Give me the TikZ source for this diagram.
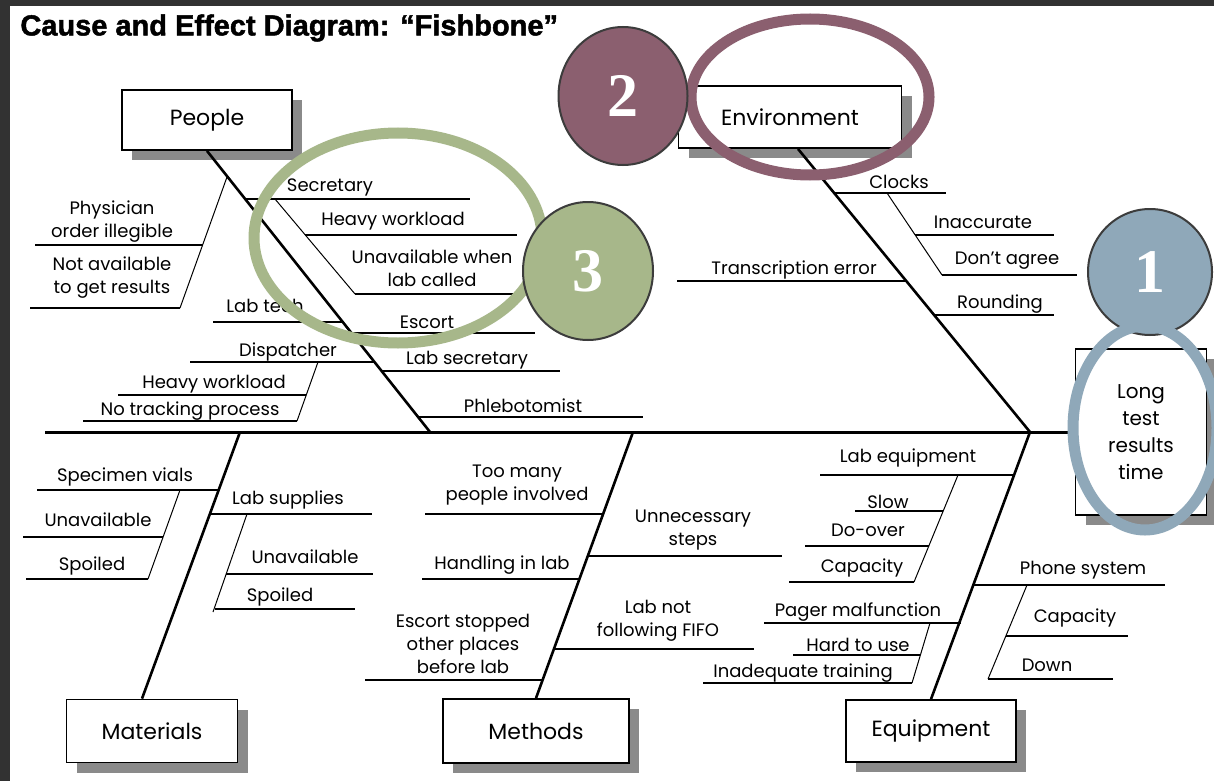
\documentclass[tikz,border=0pt]{standalone}
\usepackage{fontspec}
\setmainfont{Poppins}
\newfontfamily\titlefont[BoldFeatures={FakeBold=1.6}]{Liberation Sans}
\newfontfamily\numfont{Liberation Serif}
\usepackage{tikz}
\usetikzlibrary{positioning, calc, shapes.geometric, shadows}

\definecolor{darkframe}{HTML}{323232}
\definecolor{ringblue}{HTML}{8FA8B9}
\definecolor{ringmauve}{HTML}{8B5F6F}
\definecolor{ringsage}{HTML}{A7B78A}
\definecolor{boxshade}{HTML}{8A8A8A}
\definecolor{dotedge}{HTML}{3C3C3C}

\tikzset{
  catbox/.style={draw, line width=0.9pt, fill=white, inner sep=0pt,
    font=\fontsize{11}{13}\selectfont,
    drop shadow={shadow xshift=5pt, shadow yshift=-5pt, fill=boxshade, opacity=1}},
  lbl/.style={inner sep=0pt, font=\fontsize{9}{11.5}\selectfont, align=center},
  spine/.style={line width=1.5pt},
  bone/.style={line width=1.3pt},
  twig/.style={line width=0.75pt},
  sprig/.style={line width=0.5pt},
  numdot/.style={ellipse, draw=dotedge, line width=1pt, text=white, inner sep=0pt,
    font=\numfont\bfseries\fontsize{31}{31}\selectfont},
  ring/.style={line width=5.5pt}
}

\begin{document}
\begin{tikzpicture}[x=0.5pt, y=-0.5pt]
% page and frame
\fill[darkframe] (0,0) rectangle (1214,781);
\fill[white] (10,6) rectangle (1214,781);
\useasboundingbox (0,0) rectangle (1214,781);

\node[anchor=west, inner sep=0pt, font=\titlefont\bfseries\fontsize{14.5}{16}\selectfont] (title) at (20,28) {Cause and Effect Diagram: “Fishbone”};

% category boxes
\node[catbox, minimum width=85pt, minimum height=30pt] (people) at (207,120) {People};
\node[catbox, minimum width=111.5pt, minimum height=31pt] (environment) at (790,117) {Environment};
\node[catbox, minimum width=85.5pt, minimum height=31.5pt] (materials) at (152,731) {Materials};
\node[catbox, minimum width=93pt, minimum height=32pt] (methods) at (536,731) {Methods};
\node[catbox, minimum width=85pt, minimum height=31pt] (equipment) at (931,731) {Equipment};
\node[catbox, minimum width=65.5pt, minimum height=83pt, align=center, font=\fontsize{10}{13.5}\selectfont] (effect) at (1141,432) {Long\\test\\results\\time};

% spine and main bones
\coordinate (tail) at (45,432);
\coordinate (jP) at (430,432);
\coordinate (jE) at (1030,432);
\coordinate (jM) at (240,432);
\coordinate (jT) at (633,432);
\draw[spine] (tail) -- (effect.west);
\draw[bone] (people.south) -- (jP);
\draw[bone] ([xshift=4pt]environment.south) -- (jE);
\draw[bone] (jM) -- ([xshift=-5pt]materials.north);
\draw[bone] (jT) -- (methods.north);
\draw[bone] (jE) -- (equipment.north);

% people
\coordinate (pa1) at (227,177); \coordinate (pa2) at (180,308);
\coordinate (pb1) at (35,245);  \coordinate (pb2) at (203,245);
\coordinate (pc1) at (30,308);
\coordinate (pd1) at (244,199); \coordinate (pd2) at (470,199);
\coordinate (pe1) at (275,199); \coordinate (pe2) at (355,294);
\coordinate (pf1) at (305,235); \coordinate (pf2) at (517,235);
\coordinate (pg2) at (530,294);
\coordinate (ph1) at (213,322); \coordinate (ph2) at (342,322);
\coordinate (pi1) at (351,333); \coordinate (pi2) at (535,333);
\coordinate (pj1) at (190,362); \coordinate (pj2) at (374,362);
\coordinate (pk1) at (318,362); \coordinate (pk2) at (297,421);
\coordinate (pl1) at (118,395); \coordinate (pl2) at (306,395);
\coordinate (pm1) at (83,421);
\coordinate (pn1) at (381,371); \coordinate (pn2) at (560,371);
\coordinate (po1) at (418,417); \coordinate (po2) at (643,417);
\draw[sprig] (pa1) -- (pa2);
\draw[twig] (pb1) -- (pb2);
\draw[twig] (pc1) -- (pa2);
\draw[twig] (pd1) -- (pd2);
\draw[sprig] (pe1) -- (pe2);
\draw[twig] (pf1) -- (pf2);
\draw[twig] (pe2) -- (pg2);
\draw[twig] (ph1) -- (ph2);
\draw[twig] (pi1) -- (pi2);
\draw[twig] (pj1) -- (pj2);
\draw[sprig] (pk1) -- (pk2);
\draw[twig] (pl1) -- (pl2);
\draw[twig] (pm1) -- (pk2);
\draw[twig] (pn1) -- (pn2);
\draw[twig] (po1) -- (po2);
\node[lbl] (phys) at (112,222) {Physician\\order illegible};
\node[lbl] (notav) at (112,278) {Not available\\to get results};
\node[lbl] (secr) at (330,187) {Secretary};
\node[lbl] (heavyA) at (393,221) {Heavy workload};
\node[lbl] (unav) at (432,268) {Unavailable when\\lab called};
\node[lbl] (labtech) at (265,306) {Lab tech};
\node[lbl] (escort) at (427,322) {Escort};
\node[lbl] (disp) at (288,352) {Dispatcher};
\node[lbl] (heavyB) at (214,384) {Heavy workload};
\node[lbl] (notrack) at (190,411) {No tracking process};
\node[lbl] (labsec) at (467,360) {Lab secretary};
\node[lbl] (phleb) at (523,406) {Phlebotomist};

% environment
\coordinate (ea1) at (835,193); \coordinate (ea2) at (946,193);
\coordinate (eb1) at (887,193); \coordinate (eb2) at (942,275);
\coordinate (ec1) at (915,235); \coordinate (ec2) at (1054,235);
\coordinate (ed2) at (1077,275);
\coordinate (ee1) at (934,315); \coordinate (ee2) at (1054,315);
\coordinate (ef1) at (677,281); \coordinate (ef2) at (907,281);
\draw[twig] (ea1) -- (ea2);
\draw[sprig] (eb1) -- (eb2);
\draw[twig] (ec1) -- (ec2);
\draw[twig] (eb2) -- (ed2);
\draw[twig] (ee1) -- (ee2);
\draw[twig] (ef1) -- (ef2);
\node[lbl] (clocks) at (899,182) {Clocks};
\node[lbl] (inacc) at (983,222) {Inaccurate};
\node[lbl] (agree) at (1007,261) {Don’t agree};
\node[lbl] (rounding) at (1000,304) {Rounding};
\node[lbl] (transc) at (794,270) {Transcription error};

% materials
\coordinate (ma1) at (37,490);  \coordinate (ma2) at (219,490);
\coordinate (mb1) at (180,490); \coordinate (mb2) at (148,579);
\coordinate (mc1) at (23,537);  \coordinate (mc2) at (163,537);
\coordinate (md1) at (26,579);
\coordinate (me1) at (210,514); \coordinate (me2) at (372,514);
\coordinate (mf1) at (247,514); \coordinate (mf2) at (213,612);
\coordinate (mg1) at (226,574); \coordinate (mg2) at (373,574);
\coordinate (mh1) at (215,609); \coordinate (mh2) at (355,609);
\draw[twig] (ma1) -- (ma2);
\draw[sprig] (mb1) -- (mb2);
\draw[twig] (mc1) -- (mc2);
\draw[twig] (md1) -- (mb2);
\draw[twig] (me1) -- (me2);
\draw[sprig] (mf1) -- (mf2);
\draw[twig] (mg1) -- (mg2);
\draw[twig] (mh1) -- (mh2);
\node[lbl] (vials) at (125,477) {Specimen vials};
\node[lbl] (unavA) at (98,520) {Unavailable};
\node[lbl] (spoilA) at (92,566) {Spoiled};
\node[lbl] (supplies) at (288,500) {Lab supplies};
\node[lbl] (unavB) at (305,557) {Unavailable};
\node[lbl] (spoilB) at (280,597) {Spoiled};

% methods
\coordinate (ta1) at (425,514); \coordinate (ta2) at (603,514);
\coordinate (tb1) at (588,556); \coordinate (tb2) at (782,556);
\coordinate (tc1) at (422,579); \coordinate (tc2) at (580,579);
\coordinate (td1) at (554,649); \coordinate (td2) at (754,649);
\coordinate (te1) at (365,680); \coordinate (te2) at (543,680);
\draw[twig] (ta1) -- (ta2);
\draw[twig] (tb1) -- (tb2);
\draw[twig] (tc1) -- (tc2);
\draw[twig] (td1) -- (td2);
\draw[twig] (te1) -- (te2);
\node[lbl] (toomany) at (517,485) {Too many\\people involved};
\node[lbl] (unnec) at (693,530) {Unnecessary\\steps};
\node[lbl] (handling) at (502,565) {Handling in lab};
\node[lbl] (fifo) at (658,621) {Lab not\\following FIFO};
\node[lbl] (escstop) at (463,644) {Escort stopped\\other places\\before lab};

% equipment
\coordinate (qa1) at (820,475);  \coordinate (qa2) at (1014,475);
\coordinate (qb1) at (958,475);  \coordinate (qb2) at (914,582);
\coordinate (qc1) at (855,511);  \coordinate (qc2) at (943,511);
\coordinate (qd1) at (805,546);  \coordinate (qd2) at (929,546);
\coordinate (qe1) at (789,582);
\coordinate (qf1) at (974,585);  \coordinate (qf2) at (1165,585);
\coordinate (qg1) at (1027,585); \coordinate (qg2) at (988,679);
\coordinate (qh1) at (1006,636); \coordinate (qh2) at (1128,636);
\coordinate (qi2) at (1113,679);
\coordinate (qj1) at (764,623);  \coordinate (qj2) at (961,623);
\coordinate (qk1) at (930,623);  \coordinate (qk2) at (912,683);
\coordinate (ql1) at (793,655);  \coordinate (ql2) at (920,655);
\coordinate (qm1) at (703,683);
\draw[twig] (qa1) -- (qa2);
\draw[sprig] (qb1) -- (qb2);
\draw[twig] (qc1) -- (qc2);
\draw[twig] (qd1) -- (qd2);
\draw[twig] (qe1) -- (qb2);
\draw[twig] (qf1) -- (qf2);
\draw[sprig] (qg1) -- (qg2);
\draw[twig] (qh1) -- (qh2);
\draw[twig] (qg2) -- (qi2);
\draw[twig] (qj1) -- (qj2);
\draw[sprig] (qk1) -- (qk2);
\draw[twig] (ql1) -- (ql2);
\draw[twig] (qm1) -- (qk2);
\node[lbl] (labeq) at (908,458) {Lab equipment};
\node[lbl] (slow) at (888,502) {Slow};
\node[lbl] (doover) at (868,530) {Do-over};
\node[lbl] (capA) at (862,568) {Capacity};
\node[lbl] (phone) at (1083,570) {Phone system};
\node[lbl] (capB) at (1075,618) {Capacity};
\node[lbl] (down) at (1047,665) {Down};
\node[lbl] (pager) at (858,612) {Pager malfunction};
\node[lbl] (hard) at (858,645) {Hard to use};
\node[lbl] (inadq) at (803,673) {Inadequate training};

% numbered markers and rings
\node[numdot, fill=ringblue, minimum width=62pt, minimum height=63pt] (one) at (1150,272) {1};
\draw[ring, ringblue] (1145,428) ellipse [x radius=36pt, y radius=51pt];
\draw[ring, ringsage] (398,238) ellipse [x radius=72pt, y radius=52.5pt];
\node[numdot, fill=ringsage, minimum width=65pt, minimum height=69pt] (three) at (588,271) {3};
\draw[ring, ringmauve] (810,97) ellipse [x radius=59.5pt, y radius=39pt];
\node[numdot, fill=ringmauve, minimum width=64.5pt, minimum height=69pt] (two) at (623,96) {2};
\end{tikzpicture}
\end{document}
